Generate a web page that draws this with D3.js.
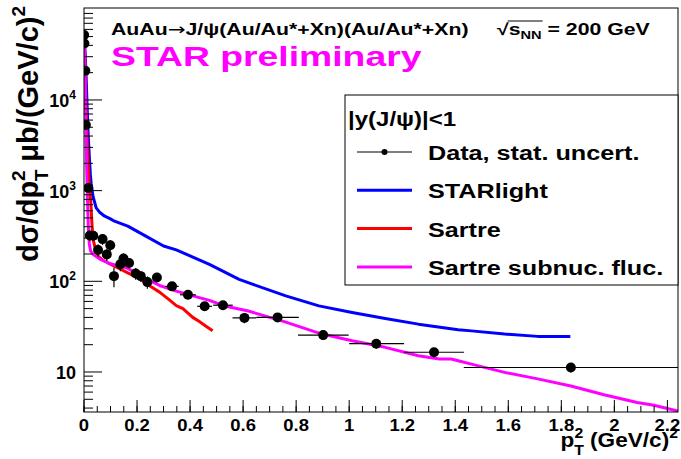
<!DOCTYPE html>
<html>
<head>
<meta charset="utf-8">
<script src="https://cdn.jsdelivr.net/npm/d3@7"></script>
<style>
  body { margin: 0; background: #fff; }
  svg { display: block; font-family: "Liberation Sans", Arial, sans-serif; font-weight: bold; }
</style>
</head>
<body>
<div id="chart"></div>
<script>
// === Data: dsigma/dpT^2 (ub/(GeV/c)^2) vs pT^2 (GeV/c)^2 ===
const dataX    = [0.0005, 0.0015, 0.005, 0.007, 0.016, 0.022, 0.035, 0.053, 0.070, 0.086, 0.099, 0.113, 0.137, 0.149, 0.170, 0.195, 0.214, 0.239, 0.275, 0.332, 0.392, 0.455, 0.524, 0.605, 0.730, 0.902, 1.102, 1.320, 1.836];
const dataY    = [52000, 42000, 21000, 5300, 1070, 320, 318, 221, 292, 198, 250, 114, 154, 178, 159, 122, 114, 98, 110, 88, 71, 53, 54.5, 39.5, 40, 25.5, 20.5, 16.5, 11.2];
const dataYErr = [3000, 3000, 1500, 500, 100, 40, 40, 35, 40, 30, 35, 28, 25, 25, 20, 18, 15, 15, 12, 10, 8, 6, 6, 5, 4, 3, 2.5, 2, 1.3];
const dataXLo  = [0.0005, 0.0005, 0.0005, 0.0005, 0.002, 0.008, 0.008, 0.008, 0.008, 0.008, 0.008, 0.008, 0.008, 0.008, 0.008, 0.008, 0.008, 0.008, 0.008, 0.025, 0.030, 0.028, 0.037, 0.045, 0.080, 0.095, 0.102, 0.113, 0.404];
const dataXHi  = [0.0005, 0.0005, 0.0005, 0.0005, 0.002, 0.008, 0.008, 0.008, 0.008, 0.008, 0.008, 0.008, 0.008, 0.008, 0.008, 0.008, 0.008, 0.008, 0.008, 0.025, 0.030, 0.028, 0.037, 0.045, 0.080, 0.096, 0.105, 0.113, 0.404];

const starlightX = [0.0005, 0.004, 0.008, 0.012, 0.016, 0.020, 0.024, 0.027, 0.034, 0.046, 0.060, 0.078, 0.098, 0.115, 0.165, 0.233, 0.300, 0.348, 0.473, 0.585, 0.635, 0.761, 0.886, 1.011, 1.136, 1.261, 1.411, 1.461, 1.586, 1.711, 1.834];
const starlightY = [45000, 35000, 18000, 8000, 4000, 2400, 1500, 1200, 865, 646, 573, 522, 491, 460, 406, 315, 245, 222, 154, 105, 93, 69, 53.6, 45.3, 38.9, 33.7, 29.2, 28.4, 26.2, 24.7, 24.7];

const sartreX = [0.0005, 0.003, 0.006, 0.010, 0.015, 0.020, 0.025, 0.028, 0.031, 0.035, 0.045, 0.053, 0.070, 0.090, 0.140, 0.165, 0.203, 0.250, 0.285, 0.323, 0.348, 0.373, 0.410, 0.435, 0.460, 0.485];
const sartreY = [42000, 30000, 12000, 5000, 2200, 1100, 800, 550, 380, 285, 215, 190, 172, 160, 135, 124, 110, 88, 76, 62, 54, 50, 40, 36, 32, 28.5];

const subnucX = [0.0005, 0.002, 0.004, 0.006, 0.008, 0.010, 0.013, 0.016, 0.020, 0.025, 0.035, 0.060, 0.100, 0.165, 0.225, 0.285, 0.348, 0.410, 0.470, 0.535, 0.620, 0.761, 0.886, 1.011, 1.136, 1.261, 1.340, 1.385, 1.411, 1.461, 1.586, 1.711, 1.836, 1.961, 2.086, 2.149, 2.240];
const subnucY = [45000, 35000, 20000, 9000, 4000, 1800, 800, 420, 260, 215, 198, 176, 156, 139, 110, 90, 78, 69, 62, 53, 47, 35.5, 26.8, 22.1, 18.7, 15.1, 13.9, 13.9, 13.3, 12.2, 9.9, 8.4, 7.0, 5.6, 4.6, 4.3, 3.7];

const xMajorTicks = [0, 0.2, 0.4, 0.6, 0.8, 1, 1.2, 1.4, 1.6, 1.8, 2, 2.2];
const xTickLabels = ["0", "0.2", "0.4", "0.6", "0.8", "1", "1.2", "1.4", "1.6", "1.8", "2", "2.2"];
const yMajorTicks = [10, 100, 1000, 10000];
const yTickExp    = ["", "2", "3", "4"];

const legendLabels = ["Data, stat. uncert.", "STARlight", "Sartre", "Sartre subnuc. fluc."];
const legendColors = ["#000", "#0000ff", "#ff0000", "#ff00ff"];

// === Chart dimensions ===
const width = 681, height = 459;
const frame = { left: 84, right: 678, top: 8, bottom: 412 };

const svg = d3.select("#chart").append("svg")
  .attr("width", width).attr("height", height);

svg.append("rect").attr("width", width).attr("height", height).attr("fill", "#fff");

const x = d3.scaleLinear().domain([0, 2.24]).range([frame.left, frame.right]);
const y = d3.scaleLog().domain([3.62, 1.033e5]).range([frame.bottom, frame.top]);

// text helper: horizontally stretched bold text like the original picture
function label(parent, px, py, size, sx, anchor) {
  return parent.append("text")
    .attr("transform", `translate(${px},${py}) scale(${sx},1)`)
    .attr("font-size", size)
    .attr("text-anchor", anchor || "start");
}

svg.append("clipPath").attr("id", "plotClip")
  .append("rect")
  .attr("x", frame.left).attr("y", frame.top)
  .attr("width", frame.right - frame.left).attr("height", frame.bottom - frame.top);

const plot = svg.append("g").attr("clip-path", "url(#plotClip)");

// === Model curves ===
const line = d3.line().x((d) => x(d[0])).y((d) => y(d[1]));
const curves = [
  { xs: starlightX, ys: starlightY, color: legendColors[1] },
  { xs: sartreX, ys: sartreY, color: legendColors[2] },
  { xs: subnucX, ys: subnucY, color: legendColors[3] },
];
curves.forEach((c) => {
  plot.append("path")
    .attr("d", line(d3.zip(c.xs, c.ys)))
    .attr("fill", "none")
    .attr("stroke", c.color)
    .attr("stroke-width", 3)
    .attr("stroke-linejoin", "round");
});

// === Data points with error bars ===
const pts = dataX.map((v, i) => ({ x: v, y: dataY[i], ey: dataYErr[i], lo: dataXLo[i], hi: dataXHi[i] }));
const pg = plot.append("g").attr("stroke", "#000").attr("stroke-width", 1.2);
pg.selectAll(".ex").data(pts).enter().append("line")
  .attr("x1", (d) => x(d.x - d.lo)).attr("x2", (d) => x(d.x + d.hi))
  .attr("y1", (d) => y(d.y)).attr("y2", (d) => y(d.y));
pg.selectAll(".ey").data(pts).enter().append("line")
  .attr("x1", (d) => x(d.x)).attr("x2", (d) => x(d.x))
  .attr("y1", (d) => y(d.y + d.ey)).attr("y2", (d) => y(Math.max(d.y - d.ey, 1)));
plot.selectAll("circle").data(pts).enter().append("circle")
  .attr("cx", (d) => x(d.x)).attr("cy", (d) => y(d.y))
  .attr("r", 5).attr("fill", "#000");

// === Frame ===
svg.append("rect")
  .attr("x", frame.left).attr("y", frame.top)
  .attr("width", frame.right - frame.left).attr("height", frame.bottom - frame.top)
  .attr("fill", "none").attr("stroke", "#000").attr("stroke-width", 1);

// === X axis ticks (inside) ===
const xMinor = d3.range(0, 2.2401, 0.05);
svg.selectAll(".xminor").data(xMinor).enter().append("line")
  .attr("x1", (d) => x(d)).attr("x2", (d) => x(d))
  .attr("y1", frame.bottom).attr("y2", frame.bottom - 6)
  .attr("stroke", "#000");
svg.selectAll(".xmajor").data(xMajorTicks).enter().append("line")
  .attr("x1", (d) => x(d)).attr("x2", (d) => x(d))
  .attr("y1", frame.bottom).attr("y2", frame.bottom - 12)
  .attr("stroke", "#000");
xMajorTicks.forEach((t, i) => {
  label(svg, x(t), 431, 16.5, 1.12, "middle").text(xTickLabels[i]);
});

// === Y axis ticks (inside, log) ===
const yMinor = [];
[1, 10, 100, 1000, 10000].forEach((dec) => {
  for (let k = 2; k <= 9; k++) {
    const v = k * dec;
    if (v >= y.domain()[0] && v <= y.domain()[1]) yMinor.push(v);
  }
});
svg.selectAll(".yminor").data(yMinor).enter().append("line")
  .attr("x1", frame.left).attr("x2", frame.left + 9)
  .attr("y1", (d) => y(d)).attr("y2", (d) => y(d))
  .attr("stroke", "#000");
svg.selectAll(".ymajor").data(yMajorTicks).enter().append("line")
  .attr("x1", frame.left).attr("x2", frame.left + 18)
  .attr("y1", (d) => y(d)).attr("y2", (d) => y(d))
  .attr("stroke", "#000");
yMajorTicks.forEach((t, i) => {
  const tx = label(svg, 76, y(t) + 7, 18, 1.0, "end");
  tx.append("tspan").text("10");
  if (yTickExp[i]) tx.append("tspan").attr("font-size", 12).attr("dy", -8).text(yTickExp[i]);
});

// === Axis titles ===
const xt = label(svg, 678, 447, 20, 1.13, "end");
xt.append("tspan").text("p");
xt.append("tspan").attr("font-size", 14).attr("dy", -9).text("2");
xt.append("tspan").attr("font-size", 14).attr("dx", -8).attr("dy", 17).text("T");
xt.append("tspan").attr("dy", -8).text(" (GeV/c)");
xt.append("tspan").attr("font-size", 14).attr("dy", -9).text("2");

const yt = svg.append("text")
  .attr("transform", "translate(38,6) rotate(-90)")
  .attr("font-size", 29)
  .attr("text-anchor", "end");
yt.append("tspan").text("dσ/dp");
yt.append("tspan").attr("font-size", 19).attr("dy", -13).text("2");
yt.append("tspan").attr("font-size", 19).attr("dx", -11).attr("dy", 23).text("T");
yt.append("tspan").attr("dy", -10).text("  μb/(GeV/c)");
yt.append("tspan").attr("font-size", 19).attr("dy", -13).text("2");

// === Title texts ===
const tt = label(svg, 111, 35, 16, 1.33);
tt.append("tspan").text("AuAu");
tt.append("tspan").attr("font-family", "DejaVu Sans").attr("font-weight", "normal").text("→");
tt.append("tspan").text("J/ψ(Au/Au*+Xn)(Au/Au*+Xn)");
const sq = label(svg, 497, 35, 16, 1.33);
sq.append("tspan").text("√");
sq.append("tspan").text("s");
sq.append("tspan").attr("font-size", 11).attr("dy", 4).text("NN");
sq.append("tspan").attr("dy", -4).text(" = 200 GeV");
const sqNode = sq.node();
const rootW = sqNode.getSubStringLength(0, 1);
const radW = sqNode.getSubStringLength(1, 3);
svg.append("line")
  .attr("x1", 497 + rootW * 1.33 - 1).attr("x2", 497 + (rootW + radW) * 1.33 + 1)
  .attr("y1", 21).attr("y2", 21)
  .attr("stroke", "#000").attr("stroke-width", 1.2);

label(svg, 111, 66, 28.5, 1.31).attr("fill", "#ff00ff").text("STAR preliminary");

// === Legend ===
const legend = svg.append("g");
legend.append("rect")
  .attr("x", 345).attr("y", 95).attr("width", 333).attr("height", 190)
  .attr("fill", "#fff").attr("stroke", "#000").attr("stroke-width", 1);
label(legend, 348, 126, 20, 1.2).text("|y(J/ψ)|<1");
legendLabels.forEach((name, i) => {
  const ly = 152 + i * 38.3;
  legend.append("line")
    .attr("x1", 357).attr("x2", 412).attr("y1", ly).attr("y2", ly)
    .attr("stroke", legendColors[i]).attr("stroke-width", i === 0 ? 1.2 : 3);
  if (i === 0) legend.append("circle").attr("cx", 384.5).attr("cy", ly).attr("r", 3).attr("fill", "#000");
  label(legend, 428, ly + 8, 21, 1.2).text(name);
});
</script>
</body>
</html>
